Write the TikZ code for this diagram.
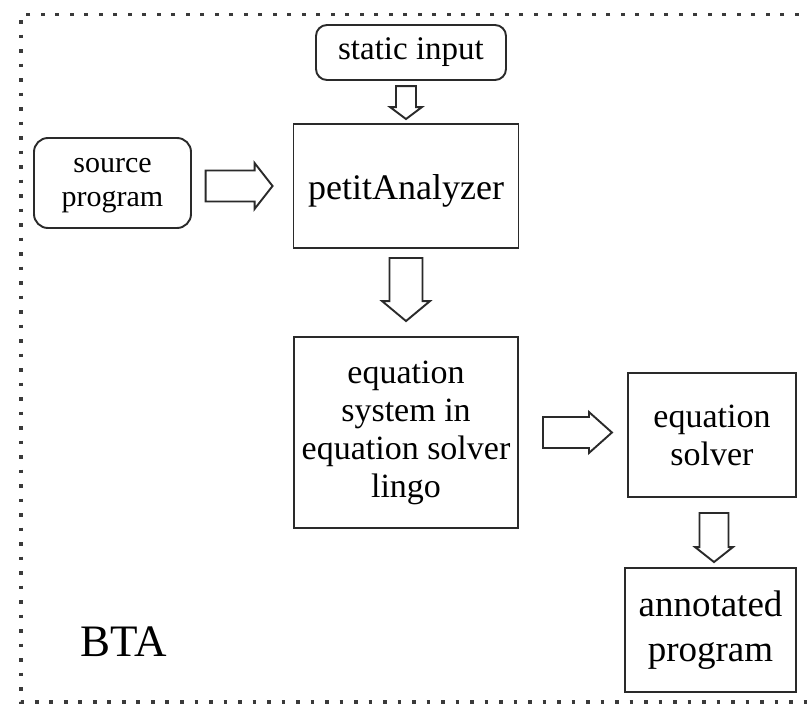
\documentclass[tikz,border=0pt]{standalone}
\usepackage{fontspec}
\setmainfont{Liberation Serif}
\usetikzlibrary{calc}

\definecolor{ink}{HTML}{2A2A2A}
\definecolor{frameink}{HTML}{3A3A3A}

% hollow block arrow pointing right: tail, tip, shaft half width, head half width, head length
\newcommand\harrow[5]{%
  \draw[barrow] let \p1=(#1), \p2=(#2) in
    (\x1,{\y1+#3pt}) -- ({\x2-#5pt},{\y1+#3pt}) -- ({\x2-#5pt},{\y1+#4pt})
    -- (\x2,\y1) -- ({\x2-#5pt},{\y1-#4pt}) -- ({\x2-#5pt},{\y1-#3pt})
    -- (\x1,{\y1-#3pt}) -- cycle;}
% hollow block arrow pointing down
\newcommand\varrow[5]{%
  \draw[barrow] let \p1=(#1), \p2=(#2) in
    ({\x1-#3pt},\y1) -- ({\x1-#3pt},{\y2+#5pt}) -- ({\x1-#4pt},{\y2+#5pt})
    -- (\x1,\y2) -- ({\x1+#4pt},{\y2+#5pt}) -- ({\x1+#3pt},{\y2+#5pt})
    -- ({\x1+#3pt},\y1) -- cycle;}

\tikzset{
  box/.style={draw=ink, line width=1.9pt, inner sep=0pt, align=center,
    text=black, font=\fontsize{34}{38}\selectfont},
  roundbox/.style={box, rounded corners=11pt},
  barrow/.style={draw=ink, line width=1.9pt, fill=white, line join=miter},
  frame/.style={draw=frameink, line width=3.6pt, dash pattern=on 3.6pt off 10.9pt}
}

\begin{document}
\begin{tikzpicture}[x=1pt, y=-1pt]
  \useasboundingbox (0,0) rectangle (809,707);
  \clip (0,0) rectangle (809,707);
  \fill[white] (0,0) rectangle (809,707);

  % dotted frame, its right side runs past the edge
  \draw[frame] (900,14.5) -- (21,14.5) -- (21,702) -- (900,702);

  % nodes
  \node[roundbox, minimum width=190pt, minimum height=55pt,
        font=\fontsize{33}{38}\selectfont] (static) at (411,52.5) {static input};
  \node[roundbox, minimum width=157pt, minimum height=90pt, rounded corners=14pt,
        label={[yshift=-3pt, align=center, inner sep=0pt,
                font=\fontsize{30}{34}\selectfont]center:source\\program}]
        (source) at (112.5,183) {};
  \node[box, minimum width=225pt, minimum height=124pt,
        label={[yshift=-5pt, inner sep=0pt,
                font=\fontsize{36}{40}\selectfont]center:petitAnalyzer}]
        (petit) at (406,186) {};
  \node[box, minimum width=224pt, minimum height=191pt] (eqsys) at (406,432.5)
        {equation\\system in\\equation solver\\lingo};
  \node[box, minimum width=168pt, minimum height=124pt] (solver) at (712,435)
        {equation\\solver};
  \node[box, minimum width=171pt, minimum height=124pt,
        font=\fontsize{37}{45}\selectfont] (annot) at (710.5,630)
        {annotated\\program};
  \node[font=\fontsize{45}{50}\selectfont, inner sep=0pt] (bta) at (124,642) {BTA};

  % block arrows between the boxes
  \varrow{$(petit.north)+(0,-37)$}{$(petit.north)+(0,-4)$}{10}{16}{12}
  \harrow{$(petit.west)+(-87,0)$}{$(petit.west)+(-20,0)$}{15.5}{23}{18}
  \varrow{$(petit.south)+(0,9)$}{$(eqsys.north)+(0,-15)$}{16.5}{24}{20}
  \harrow{$(eqsys.east)+(24,0)$}{$(eqsys.east)+(93,0)$}{15.5}{20.5}{23}
  \varrow{$(solver.south)+(2,15)$}{$(annot.north)+(3.5,-5)$}{14.5}{19}{15}
\end{tikzpicture}
\end{document}
